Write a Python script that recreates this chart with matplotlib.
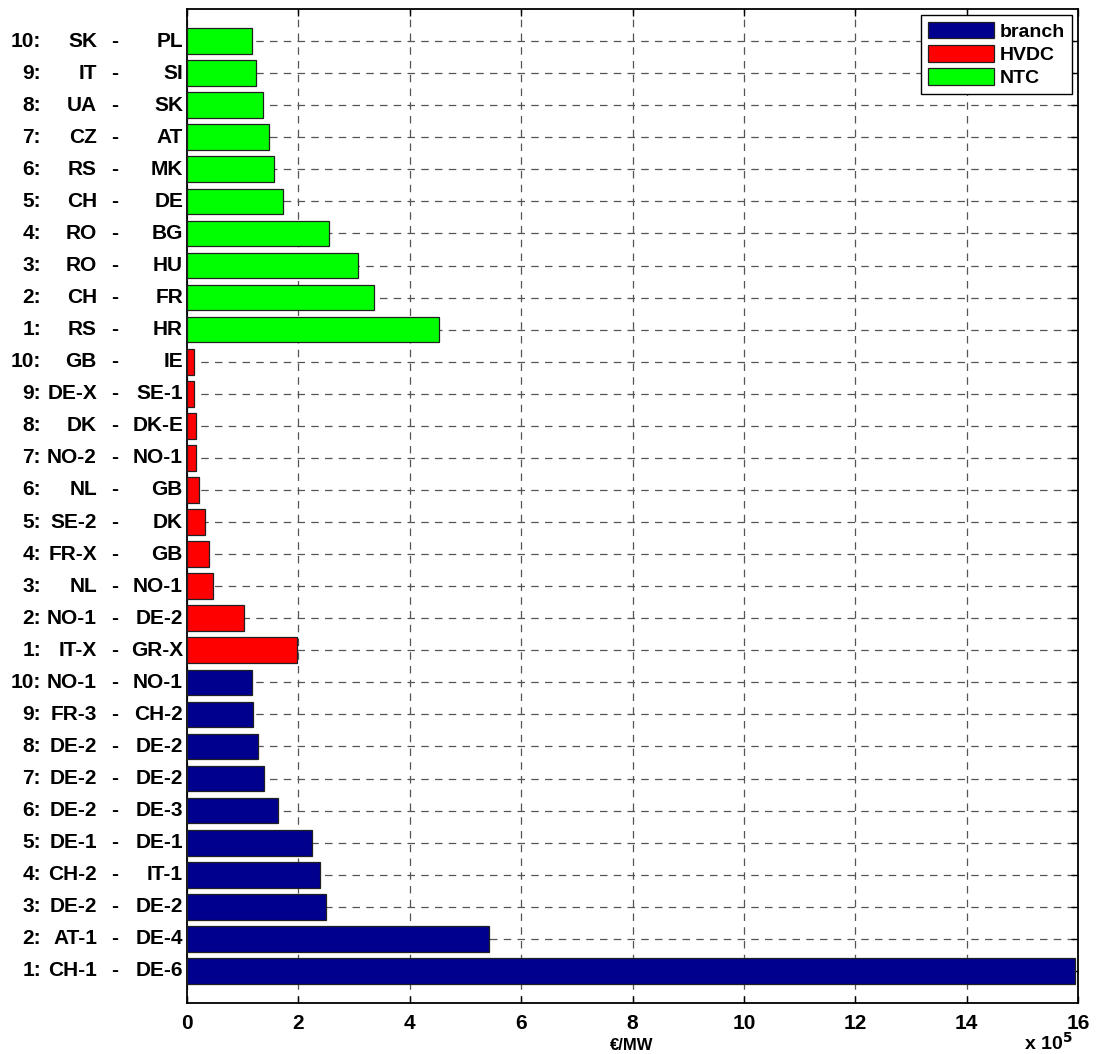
import numpy as np
import matplotlib
matplotlib.use("Agg")
import matplotlib.pyplot as plt

plt.rcParams['font.family'] = ['Liberation Sans', 'DejaVu Sans']
plt.rcParams['font.weight'] = 'bold'

# congestion rent per category, in 1e5 EUR/MW, rank 1 first
branch_from = ["CH-1", "AT-1", "DE-2", "CH-2", "DE-1", "DE-2", "DE-2", "DE-2", "FR-3", "NO-1"]
branch_to = ["DE-6", "DE-4", "DE-2", "IT-1", "DE-1", "DE-3", "DE-2", "DE-2", "CH-2", "NO-1"]
branch_val = [15.95, 5.42, 2.49, 2.39, 2.24, 1.63, 1.39, 1.27, 1.19, 1.17]

hvdc_from = ["IT-X", "NO-1", "NL", "FR-X", "SE-2", "NL", "NO-2", "DK", "DE-X", "GB"]
hvdc_to = ["GR-X", "DE-2", "NO-1", "GB", "DK", "GB", "NO-1", "DK-E", "SE-1", "IE"]
hvdc_val = [1.97, 1.02, 0.46, 0.39, 0.32, 0.22, 0.17, 0.17, 0.12, 0.12]

ntc_from = ["RS", "CH", "RO", "RO", "CH", "RS", "CZ", "UA", "IT", "SK"]
ntc_to = ["HR", "FR", "HU", "BG", "DE", "MK", "AT", "SK", "SI", "PL"]
ntc_val = [4.53, 3.36, 3.07, 2.55, 1.73, 1.56, 1.48, 1.36, 1.24, 1.17]

groups = [
    ("branch", "#00008F", branch_from, branch_to, branch_val),
    ("HVDC", "#FF0000", hvdc_from, hvdc_to, hvdc_val),
    ("NTC", "#00FF00", ntc_from, ntc_to, ntc_val),
]

fig = plt.figure(figsize=(11.01, 10.54), dpi=100)
ax = fig.add_axes([187 / 1101, 1 - 1003 / 1054, (1078 - 187) / 1101, (1003 - 9) / 1054])

pos = 1
for name, color, frm, to, vals in groups:
    y = np.arange(pos, pos + len(vals))
    ax.barh(y, vals, height=0.8, color=color, edgecolor="#202020",
            linewidth=0.9, label=name, zorder=3)
    # row labels in columns: rank, from, dash, to
    for k, yy in enumerate(y):
        for txt, dx, ha in [(f"{k + 1}:", -146, "right"), (frm[k], -90, "right"),
                            ("-", -72, "center"), (to[k], -4, "right")]:
            ax.annotate(txt, xy=(0, yy), xycoords=("axes fraction", "data"),
                        xytext=(dx, 0), textcoords="offset pixels",
                        ha=ha, va="center", fontsize=15, fontweight="bold")
    pos += len(vals)

ax.set_xlim(0, 16)
ax.set_ylim(0, 31)
ax.set_xticks(np.arange(0, 17, 2))
ax.set_yticks(np.arange(1, 31))
ax.set_yticklabels([])
ax.tick_params(axis="x", labelsize=15, pad=8, direction="in", length=5,
               top=True, width=1)
ax.tick_params(axis="y", direction="in", length=5, right=True, width=1)
for lab in ax.get_xticklabels():
    lab.set_fontweight("bold")

ax.grid(True, color="#555555", linestyle=(0, (6, 5)), linewidth=0.9, zorder=0)
ax.set_axisbelow(True)
for sp in ax.spines.values():
    sp.set_linewidth(1.3)

# axis label and exponent placed by hand at the bottom edge
fig.text(632 / 1101, 1 - 1045 / 1054, "€/MW", fontsize=12, fontweight="bold",
         ha="center", va="center")
fig.text(1024 / 1101, 1 - 1050 / 1054, r"x 10$^{\mathbf{5}}$", fontsize=14,
         fontweight="bold", ha="left", va="baseline")

leg = ax.legend(loc="upper right", fontsize=14, fancybox=False, edgecolor="black",
                framealpha=1, handlelength=3.4, handleheight=0.95,
                borderaxespad=0.3, labelspacing=0.22, handletextpad=0.3,
                borderpad=0.35)
leg.get_frame().set_linewidth(1.0)
for t in leg.get_texts():
    t.set_fontweight("bold")

fig.savefig("out.png", dpi=100)
